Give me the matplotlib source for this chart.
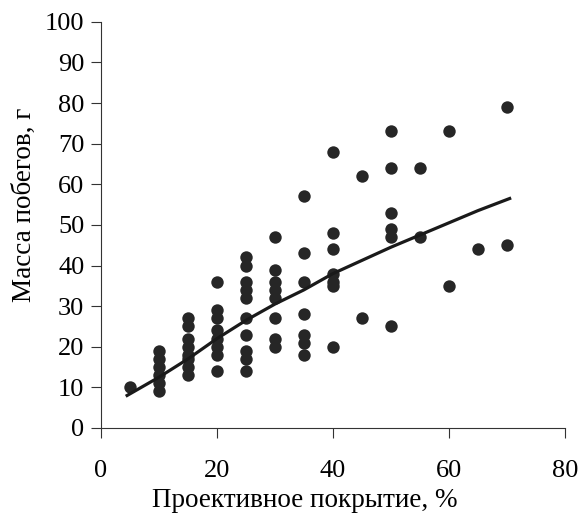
import numpy as np
import matplotlib
matplotlib.use("Agg")
import matplotlib.pyplot as plt

plt.rcParams["font.family"] = ["Liberation Serif", "DejaVu Serif"]

# --- Dados ---
# cobertura projetiva (%) e massa dos brotos (g), uma lista por coluna
cobertura = [5, 10, 15, 20, 25, 30, 35, 40, 45, 50, 55, 60, 65, 70]
massa = [
    [10],
    [19, 17, 15, 13, 11, 9],
    [27, 25, 22, 20, 18, 17, 15, 13],
    [36, 29, 27, 24, 22, 20, 18, 14],
    [42, 40, 36, 34, 32, 27, 23, 19, 17, 14],
    [47, 39, 36, 34, 32, 27, 22, 20],
    [57, 43, 36, 28, 23, 21, 18],
    [68, 48, 44, 38, 36, 35, 20],
    [62, 27],
    [73, 64, 53, 49, 47, 25],
    [64, 47],
    [73, 35],
    [44],
    [79, 45],
]

# linha de tendencia
linha_x = [4.5, 10, 15, 20, 25, 30, 35, 40, 50, 55, 60, 65, 70.5]
linha_y = [8, 12.5, 17, 22, 26.5, 30.5, 34, 38, 44.5, 47.5, 50.5, 53.5, 56.5]

xs = [c for c, col in zip(cobertura, massa) for _ in col]
ys = [v for col in massa for v in col]

fig = plt.figure(figsize=(5.84, 5.2), dpi=100)
ax = fig.add_axes([0.173, 0.177, 0.794, 0.781])

ax.scatter(xs, ys, s=80, color="#262626", zorder=3, linewidths=0)
ax.plot(linha_x, linha_y, color="#1a1a1a", lw=2.3, zorder=4)

ax.set_xlim(0, 80)
ax.set_ylim(0, 100)
ax.set_xticks(np.arange(0, 81, 20))
ax.set_yticks(np.arange(0, 101, 10))

for s in ("top", "right"):
    ax.spines[s].set_visible(False)
ax.spines["left"].set_color("#333333")
ax.spines["bottom"].set_color("#333333")

ax.tick_params(axis="x", direction="out", length=7, pad=16,
               labelsize=19, color="#333333")
ax.tick_params(axis="y", direction="out", length=7, pad=5,
               labelsize=19, color="#333333")

ax.set_xlabel("Проективное покрытие, %", fontsize=19.5)
ax.xaxis.set_label_coords(0.44, -0.148)
ax.set_ylabel("Масса побегов, г", fontsize=19.5)
ax.yaxis.set_label_coords(-0.138, 0.55)

fig.savefig("out.png", dpi=100)
